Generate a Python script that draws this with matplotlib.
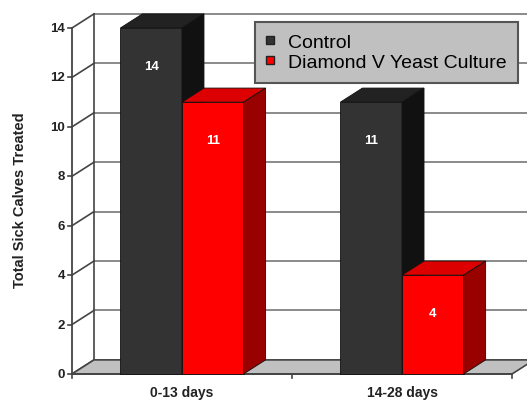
import matplotlib.pyplot as plt
from matplotlib.patches import Polygon
from matplotlib.lines import Line2D

plt.rcParams['font.family'] = ['Liberation Sans', 'DejaVu Sans']

# data
groups = ['0-13 days', '14-28 days']
series = ['Control', 'Diamond V Yeast Culture']
control = [14, 11]
yeast = [11, 4]
y_ticks = [0, 2, 4, 6, 8, 10, 12, 14]

# front, top, side colours for each series
colors = [('#333333', '#222222', '#111111'),
          ('#ff0000', '#dd0000', '#990000')]

fig = plt.figure(figsize=(5.27, 4.02), dpi=100)
ax = fig.add_axes([0, 0, 1, 1])
ax.set_xlim(-0.327, 2.068)
ax.set_ylim(-1.093, 15.174)
ax.axis('off')

dx, dy = 0.1, 0.57   # depth of the fake 3d box
ymax = y_ticks[-1]
n = len(groups)
line_c = '#444444'

# back wall grid + diagonal ticks on the side wall
for v in y_ticks:
    ax.plot([dx, n + dx + 0.2], [v + dy, v + dy], color='#777777', lw=1.2, zorder=1)
    ax.plot([0, dx], [v, v + dy], color=line_c, lw=1.2, zorder=1)
    ax.plot([-0.018, 0], [v, v], color=line_c, lw=1.2, zorder=3)
    ax.text(-0.03, v, str(v), ha='right', va='center', fontsize=9.5,
            fontweight='bold', color='#222222')
ax.plot([dx, dx], [dy, ymax + dy], color=line_c, lw=1.2, zorder=1)

# floor
floor = Polygon([(0, 0), (n, 0), (n + dx, dy), (dx, dy)], closed=True,
                fc='#c0c0c0', ec=line_c, lw=1.2, zorder=2)
ax.add_patch(floor)

# axes lines
ax.plot([0, 0], [0, ymax], color=line_c, lw=1.3, zorder=3)
ax.plot([0, n], [0, 0], color=line_c, lw=1.3, zorder=3)
for i in range(n + 1):
    ax.plot([i, i], [0, -0.17], color=line_c, lw=1.2, zorder=3)

# bars
w = 0.28
for gi in range(n):
    for si, vals in enumerate([control, yeast]):
        v = vals[gi]
        x0 = gi + 0.5 - w + si * w
        front, top, side = colors[si]
        z = 4 + gi * 2 + si
        ax.add_patch(Polygon([(x0, 0), (x0 + w, 0), (x0 + w, v), (x0, v)],
                             fc=front, ec='#111111', lw=0.6, zorder=z))
        ax.add_patch(Polygon([(x0, v), (x0 + w, v), (x0 + w + dx, v + dy), (x0 + dx, v + dy)],
                             fc=top, ec='#111111', lw=0.6, zorder=z))
        ax.add_patch(Polygon([(x0 + w, 0), (x0 + w + dx, dy), (x0 + w + dx, v + dy), (x0 + w, v)],
                             fc=side, ec='#111111', lw=0.6, zorder=z))
        ax.text(x0 + w / 2, v - 1.55, str(v), ha='center', va='center', color='white',
                fontsize=9.5, fontweight='bold', zorder=20)

for gi, g in enumerate(groups):
    ax.text(gi + 0.5, -0.73, g, ha='center', va='center', fontsize=10,
            fontweight='bold', color='#222222')

fig.text(20 / 527, 1 - 200 / 402, 'Total Sick Calves Treated', rotation=90,
         ha='center', va='center', fontsize=10.5, fontweight='bold', color='#222222')

handles = [Line2D([], [], ls='none', marker='s', markersize=5.5, markerfacecolor=c[0],
                  markeredgecolor='#222222') for c in colors]
leg = ax.legend(handles, series, loc='upper right', bbox_to_anchor=(518 / 527, 1 - 23 / 402),
                bbox_transform=fig.transFigure, borderaxespad=0, fancybox=False,
                framealpha=1, facecolor='#c0c0c0', edgecolor='#555555', fontsize=14,
                handlelength=0.4, handletextpad=0.7, labelspacing=0.1, borderpad=0.6)
leg.get_frame().set_linewidth(1.5)
leg.set_zorder(30)

fig.savefig('out.png', dpi=100)
